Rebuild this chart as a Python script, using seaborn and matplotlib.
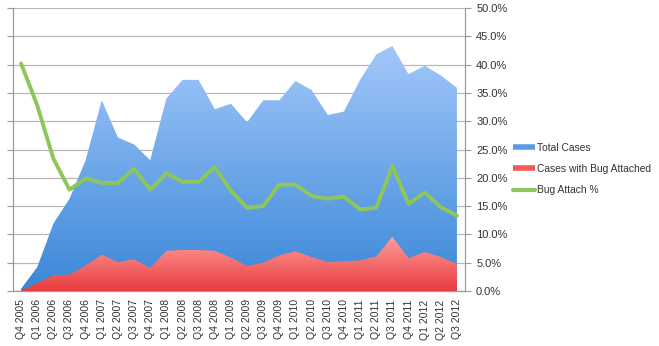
import numpy as np
import pandas as pd
import matplotlib
matplotlib.use("Agg")
import matplotlib.pyplot as plt
from matplotlib.patches import PathPatch
from matplotlib.colors import LinearSegmentedColormap
from matplotlib.ticker import FuncFormatter, MultipleLocator
from matplotlib.lines import Line2D
import seaborn as sns

quarters = ["Q4 2005", "Q1 2006", "Q2 2006", "Q3 2006", "Q4 2006", "Q1 2007", "Q2 2007",
            "Q3 2007", "Q4 2007", "Q1 2008", "Q2 2008", "Q3 2008", "Q4 2008", "Q1 2009",
            "Q2 2009", "Q3 2009", "Q4 2009", "Q1 2010", "Q2 2010", "Q3 2010", "Q4 2010",
            "Q1 2011", "Q2 2011", "Q3 2011", "Q4 2011", "Q1 2012", "Q2 2012", "Q3 2012"]
total_cases = [0.4, 4.2, 11.9, 16.3, 23.1, 33.7, 27.1, 25.9, 23.1, 34.0, 37.3, 37.3, 32.1, 33.1,
               29.8, 33.7, 33.7, 37.1, 35.5, 31.1, 31.7, 37.3, 41.8, 43.3, 38.3, 39.8, 38.1, 35.9]
bug_cases = [0.1, 1.4, 2.8, 2.9, 4.5, 6.4, 5.1, 5.6, 4.1, 7.1, 7.25, 7.25, 7.1, 5.9,
             4.4, 5.0, 6.3, 7.0, 6.0, 5.1, 5.3, 5.4, 6.1, 9.6, 5.8, 6.9, 6.0, 4.8]
bug_pct = [40.2, 32.8, 23.4, 17.9, 19.9, 19.1, 19.1, 21.6, 17.9, 20.8, 19.3, 19.3, 21.9, 17.7,
           14.7, 15.0, 18.8, 18.8, 16.8, 16.3, 16.7, 14.4, 14.7, 22.1, 15.4, 17.4, 14.8, 13.3]

df = pd.DataFrame({"q": quarters, "i": np.arange(len(quarters)),
                   "total": total_cases, "bug": bug_cases, "pct": bug_pct})

sns.set_style("white")
plt.rcParams["font.family"] = ["Liberation Sans", "DejaVu Sans"]

W, H = 659, 346
fig = plt.figure(figsize=(W / 100, H / 100), dpi=100)
ax = fig.add_axes([13 / W, (H - 291) / H, (465 - 13) / W, (291 - 8) / H])
n = len(quarters)
ax.set_xlim(-0.5, n - 0.5)
ax.set_ylim(0, 50)

grid_c = "#b8b8b8"
ax.yaxis.set_major_locator(MultipleLocator(5))
ax.grid(axis="y", color=grid_c, linewidth=0.9, zorder=0)
ax.set_axisbelow(True)


def grad_area(y, top_color, bot_color, z):
    poly = ax.fill_between(df["i"], 0, y, facecolor="none", edgecolor="none", zorder=z)
    path = poly.get_paths()[0]
    patch = PathPatch(path, transform=ax.transData, facecolor="none", edgecolor="none")
    ax.add_patch(patch)
    cmap = LinearSegmentedColormap.from_list("g", [bot_color, top_color])
    grad = np.linspace(0, 1, 256).reshape(-1, 1)
    im = ax.imshow(grad, extent=[-0.5, n - 0.5, 0, max(y)], aspect="auto", cmap=cmap,
                   origin="lower", zorder=z, interpolation="bilinear")
    im.set_clip_path(patch)


grad_area(df["total"], "#a3c8fa", "#3a87d8", 2)
grad_area(df["bug"], "#ff9e9e", "#e93c3c", 3)
ax.set_xlim(-0.5, n - 0.5)
ax.set_ylim(0, 50)

ax2 = ax.twinx()
sns.lineplot(data=df, x="i", y="pct", ax=ax2, color="#8fc65a", linewidth=2.8, zorder=5,
             legend=False)
ax2.set_ylim(0, 50)
ax2.set_xlim(-0.5, n - 0.5)
ax2.set_ylabel("")
ax2.set_xlabel("")
ax2.yaxis.set_major_locator(MultipleLocator(5))
ax2.yaxis.set_major_formatter(FuncFormatter(lambda v, p: f"{v:.1f}%"))
ax2.tick_params(axis="y", labelsize=8, labelcolor="#333333", color="#999999", length=4,
                width=0.8, direction="out", pad=4)

ax.set_xticks(df["i"])
ax.set_xticklabels(quarters, rotation=90, fontsize=7.5, color="#333333")
ax.set_xticks(np.arange(-0.5, n, 1), minor=True)
ax.tick_params(axis="x", which="major", length=0, pad=6)
ax.tick_params(axis="x", which="minor", length=4, width=0.8, color="#999999", direction="out")
ax.tick_params(axis="y", labelleft=False, length=4, width=0.8, color="#999999", direction="out")
ax.set_xlabel("")
ax.set_ylabel("")

for a in (ax, ax2):
    a.spines["top"].set_visible(False)
    for s in ("left", "right", "bottom"):
        a.spines[s].set_color("#999999")
        a.spines[s].set_linewidth(0.8)

handles = [Line2D([], [], color="#5a9ae6", linewidth=4, solid_capstyle="butt"),
           Line2D([], [], color="#f55a5a", linewidth=4, solid_capstyle="butt"),
           Line2D([], [], color="#8fc65a", linewidth=3, solid_capstyle="round")]
fig.legend(handles, ["Total Cases", "Cases with Bug Attached", "Bug Attach %"],
           loc="center left", bbox_to_anchor=(510 / W, 1 - 169 / H), frameon=False,
           fontsize=7.4, handlelength=2.1, handletextpad=0.25, labelspacing=1.1,
           labelcolor="#333333", borderaxespad=0, borderpad=0.3)

fig.savefig("out.png", dpi=100)
